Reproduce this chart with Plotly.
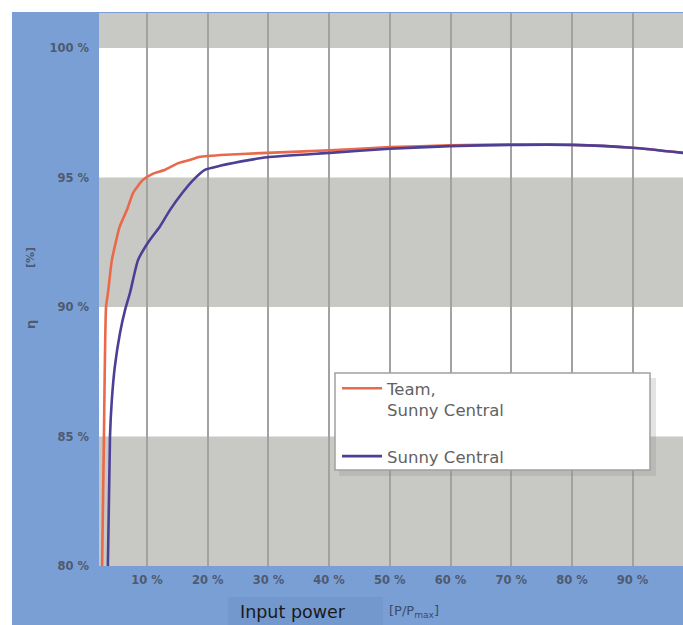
import plotly.graph_objects as go

# ---------------- data ----------------
x_ticks = [10, 20, 30, 40, 50, 60, 70, 80, 90]
x_tick_labels = ["10 %", "20 %", "30 %", "40 %", "50 %", "60 %", "70 %", "80 %", "90 %"]
x_zero_label = "0 %"
y_ticks = [80, 85, 90, 95, 100]
y_tick_labels = ["80 %", "85 %", "90 %", "95 %", "100 %"]

team_x = [2.6, 2.9, 3.25, 3.6, 4.2, 5.5, 6.7, 7.7, 9.3, 11.0, 13.0, 15.1, 17.4, 18.7,
          23.0, 29.8, 40.1, 50.0, 59.9, 70.0, 80.0, 90.0, 98.3]
team_y = [80.0, 85.0, 90.0, 90.6, 91.8, 93.1, 93.75, 94.4, 94.9, 95.15, 95.3, 95.55, 95.7, 95.8,
          95.88, 95.95, 96.05, 96.17, 96.24, 96.27, 96.26, 96.15, 95.95]

sc_x = [3.55, 3.9, 4.2, 4.7, 5.55, 6.4, 7.2, 8.5, 10.2, 12.1, 13.8, 15.8, 17.6, 19.6,
        22.0, 27.0, 29.8, 40.1, 50.0, 59.9, 70.0, 80.0, 90.0, 98.3]
sc_y = [80.0, 85.0, 86.4, 87.7, 89.0, 89.9, 90.55, 91.8, 92.5, 93.1, 93.75, 94.4, 94.9, 95.3,
        95.45, 95.68, 95.78, 95.95, 96.11, 96.21, 96.26, 96.26, 96.15, 95.95]

series_names = ["Team,<br>Sunny Central", "Sunny Central"]
series_colors = ["#e8694b", "#4b3f96"]

x_title = "Input power"
x_unit = "[P/P<sub>max</sub>]"
y_title_parts = ["η", "[%]"]

# ---------------- figure ----------------
W, H = 683, 625
ML, MR, MT, MB = 99, 0, 13, 625 - 566
PW, PH = W - ML - MR, H - MT - MB


def px_x(p):  # screen x pixel -> paper
    return (p - ML) / PW


def px_y(p):  # screen y pixel -> paper
    return (H - MB - p) / PH


X_RANGE = [2.09, 98.3]
Y_RANGE = [80, 101.35]

fig = go.Figure()
for xs, ys, name, col in [(team_x, team_y, series_names[0], series_colors[0]),
                          (sc_x, sc_y, series_names[1], series_colors[1])]:
    fig.add_trace(go.Scatter(x=xs, y=ys, mode="lines", name=name, legendgroup=name,
                             line=dict(color=col, width=2.6, shape="spline", smoothing=0.5)))

shapes = []
# grey bands
band_edges = [(y_ticks[0], y_ticks[1]), (y_ticks[2], y_ticks[3]), (y_ticks[4], Y_RANGE[1] + 1)]
for y0, y1 in band_edges:
    shapes.append(dict(type="rect", xref="x", yref="y", x0=X_RANGE[0] - 1, x1=X_RANGE[1] + 1,
                       y0=y0, y1=y1, fillcolor="#c8c8c4", line=dict(width=0), layer="below"))
# white strips outside the blue frame
shapes.append(dict(type="rect", xref="paper", yref="paper", x0=px_x(-5), x1=px_x(12),
                   y0=px_y(640), y1=px_y(-5), fillcolor="white", line=dict(width=0), layer="above"))
shapes.append(dict(type="rect", xref="paper", yref="paper", x0=px_x(-5), x1=px_x(700),
                   y0=px_y(12), y1=px_y(-5), fillcolor="white", line=dict(width=0), layer="above"))
# box behind x title
shapes.append(dict(type="rect", xref="paper", yref="paper", x0=px_x(228), x1=px_x(383),
                   y0=px_y(640), y1=px_y(597), fillcolor="#7398ce", line=dict(width=0), layer="below"))
# legend shadow + box
shapes.append(dict(type="rect", xref="paper", yref="paper", x0=px_x(339), x1=px_x(656),
                   y0=px_y(476), y1=px_y(378), fillcolor="rgba(130,130,130,0.22)",
                   line=dict(width=0), layer="above"))
shapes.append(dict(type="rect", xref="paper", yref="paper", x0=px_x(335), x1=px_x(650),
                   y0=px_y(470), y1=px_y(373), fillcolor="white",
                   line=dict(color="#a0a0a0", width=1.5), layer="above"))

tick_font = dict(family="DejaVu Sans", size=11.5, color="#4d5a70", weight="bold")

annotations = [
    dict(x=2.0, xref="x", y=px_y(581), yref="paper", text=x_zero_label, showarrow=False,
         xanchor="center", yanchor="middle", font=tick_font),
    dict(x=px_x(293), xref="paper", y=px_y(612), yref="paper", text=x_title, showarrow=False,
         xanchor="center", yanchor="middle",
         font=dict(family="DejaVu Sans", size=17.5, color="#1a1a1a")),
    dict(x=px_x(387), xref="paper", y=px_y(611), yref="paper", text=x_unit, showarrow=False,
         xanchor="left", yanchor="middle",
         font=dict(family="DejaVu Sans", size=13, color="#3d4b68")),
    dict(x=px_x(30), xref="paper", y=px_y(325), yref="paper", text=y_title_parts[0],
         showarrow=False, textangle=-90, xanchor="center", yanchor="middle",
         font=dict(family="DejaVu Sans", size=13, color="#4d5a70", weight="bold")),
    dict(x=px_x(30), xref="paper", y=px_y(258), yref="paper", text=y_title_parts[1],
         showarrow=False, textangle=-90, xanchor="center", yanchor="middle",
         font=dict(family="DejaVu Sans", size=11, color="#4d5a70", weight="bold")),
]

fig.update_layout(
    width=W, height=H,
    margin=dict(l=ML, r=MR, t=MT, b=MB, pad=0),
    paper_bgcolor="#7a9fd5",
    plot_bgcolor="white",
    shapes=shapes,
    annotations=annotations,
    showlegend=True,
    legend=dict(x=px_x(337), y=px_y(371), xanchor="left", yanchor="top",
                bgcolor="rgba(0,0,0,0)", borderwidth=0,
                font=dict(family="DejaVu Sans", size=16.5, color="#626262"),
                traceorder="grouped", tracegroupgap=22, valign="top", itemwidth=40),
    xaxis=dict(range=X_RANGE, tickvals=x_ticks, ticktext=x_tick_labels,
               showgrid=True, gridcolor="#a2a2a2", gridwidth=2, zeroline=False,
               showline=False, ticks="", tickfont=tick_font, ticklabelstandoff=5,
               fixedrange=True),
    yaxis=dict(range=Y_RANGE, tickvals=y_ticks, ticktext=y_tick_labels,
               showgrid=False, zeroline=False, showline=False, ticks="",
               tickfont=tick_font, ticklabelstandoff=9, fixedrange=True),
)

fig.write_html(
    "out.html",
    config={"displayModeBar": False},
    post_script="document.body.style.margin='0';document.documentElement.style.overflow='hidden';",
)
